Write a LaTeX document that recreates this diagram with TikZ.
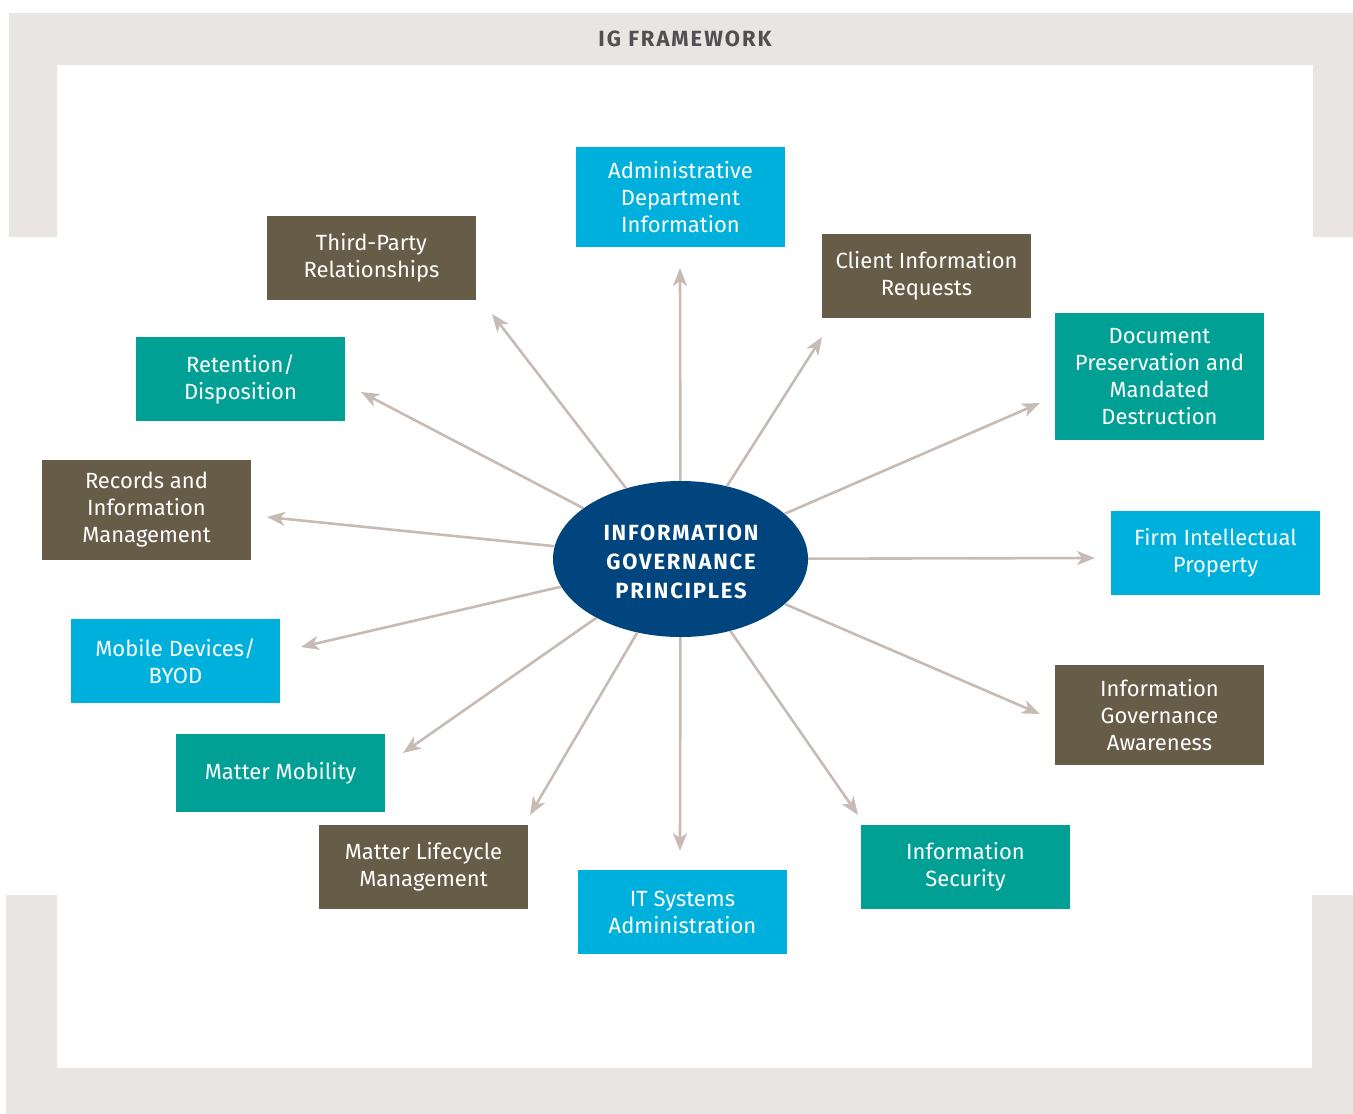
\documentclass[tikz,border=0pt]{standalone}
\usepackage{fontspec}
\setmainfont{Fira Sans}
\usetikzlibrary{arrows.meta,shapes.geometric}

\definecolor{frameGray}{HTML}{E9E5E2}
\definecolor{titleGray}{HTML}{505052}
\definecolor{boxBrown}{HTML}{675C47}
\definecolor{boxTeal}{HTML}{00A094}
\definecolor{boxCyan}{HTML}{00B0DC}
\definecolor{coreBlue}{HTML}{00457D}
\definecolor{arrowGray}{HTML}{C6BBB5}

\tikzset{
  topic/.style={rectangle, minimum width=209pt, inner sep=0pt, align=center,
    text=white, font=\fontsize{22}{27}\selectfont},
  brownbox/.style={topic, fill=boxBrown},
  tealbox/.style={topic, fill=boxTeal},
  cyanbox/.style={topic, fill=boxCyan},
  spoke/.style={draw=arrowGray, line width=2.6pt,
    -{Stealth[length=18pt, width=14pt, inset=5pt]}},
}

\begin{document}
\begin{tikzpicture}[x=1pt, y=-1pt]
\useasboundingbox (0,0) rectangle (1353,1114);

% outer frame, upper and lower brackets
\fill[frameGray] (9,13) -- (1353,13) -- (1353,237) -- (1313,237) -- (1313,65)
  -- (57,65) -- (57,237) -- (9,237) -- cycle;
\fill[frameGray] (6,895) -- (57,895) -- (57,1068) -- (1312,1068) -- (1312,895)
  -- (1353,895) -- (1353,1114) -- (6,1114) -- cycle;

\node[text=titleGray, font=\fontsize{22}{25}\bfseries\addfontfeatures{LetterSpace=9}\selectfont]
  (title) at (685,39) {IG FRAMEWORK};

% central principle
\node[ellipse, fill=coreBlue, minimum width=255pt, minimum height=156pt, inner sep=0pt,
  text=white, align=center, font=\fontsize{22}{29}\bfseries\addfontfeatures{LetterSpace=8}\selectfont]
  (ig) at (680.5,559) {};
\node[text=white, align=center, inner sep=0pt,
  font=\fontsize{22}{29}\bfseries\addfontfeatures{LetterSpace=8}\selectfont]
  (igtext) at (681,562) {INFORMATION\\GOVERNANCE\\PRINCIPLES};

% topic boxes
\node[cyanbox,  minimum height=100pt] (adm)  at (680.5,197)  {Administrative\\Department\\Information};
\node[brownbox, minimum height=84pt]  (tpr)  at (371.5,258)  {Third-Party\\Relationships};
\node[brownbox, minimum height=84pt]  (cir)  at (926.5,276)  {Client Information\\Requests};
\node[tealbox,  minimum height=84pt]  (ret)  at (240.5,379)  {Retention/\\Disposition};
\node[tealbox,  minimum height=127pt] (doc)  at (1159.5,376.5) {Document\\Preservation and\\Mandated\\Destruction};
\node[brownbox, minimum height=100pt] (rim)  at (146.5,510)  {Records and\\Information\\Management};
\node[cyanbox,  minimum height=84pt]  (fip)  at (1215.5,553) {Firm Intellectual\\Property};
\node[cyanbox,  minimum height=84pt]  (mob)  at (175.5,661)  {Mobile Devices/\\BYOD};
\node[brownbox, minimum height=100pt] (iga)  at (1159.5,715) {Information\\Governance\\Awareness};
\node[tealbox,  minimum height=78pt]  (mmo)  at (280.5,773)  {Matter Mobility};
\node[brownbox, minimum height=84pt]  (mlc)  at (423.5,867)  {Matter Lifecycle\\Management};
\node[tealbox,  minimum height=84pt]  (isec) at (965.5,867)  {Information\\Security};
\node[cyanbox,  minimum height=84pt]  (its)  at (682.5,912)  {IT Systems\\Administration};

% arrow tips
\coordinate (tadm)  at (680,268);
\coordinate (tcir)  at (822,337);
\coordinate (tdoc)  at (1040,403);
\coordinate (tfip)  at (1095,558);
\coordinate (tiga)  at (1040,714);
\coordinate (tisec) at (858,815);
\coordinate (tits)  at (680,851);
\coordinate (tmlc)  at (530,815);
\coordinate (tmmo)  at (403,753);
\coordinate (tmob)  at (301,647);
\coordinate (trim)  at (267,517);
\coordinate (tret)  at (361,392);
\coordinate (ttpr)  at (492,314);

% spokes from the centre
\foreach \t in {tadm,tcir,tdoc,tfip,tiga,tisec,tits,tmlc,tmmo,tmob,trim,tret,ttpr}
  \draw[spoke] (ig) -- (\t);

\end{tikzpicture}
\end{document}
